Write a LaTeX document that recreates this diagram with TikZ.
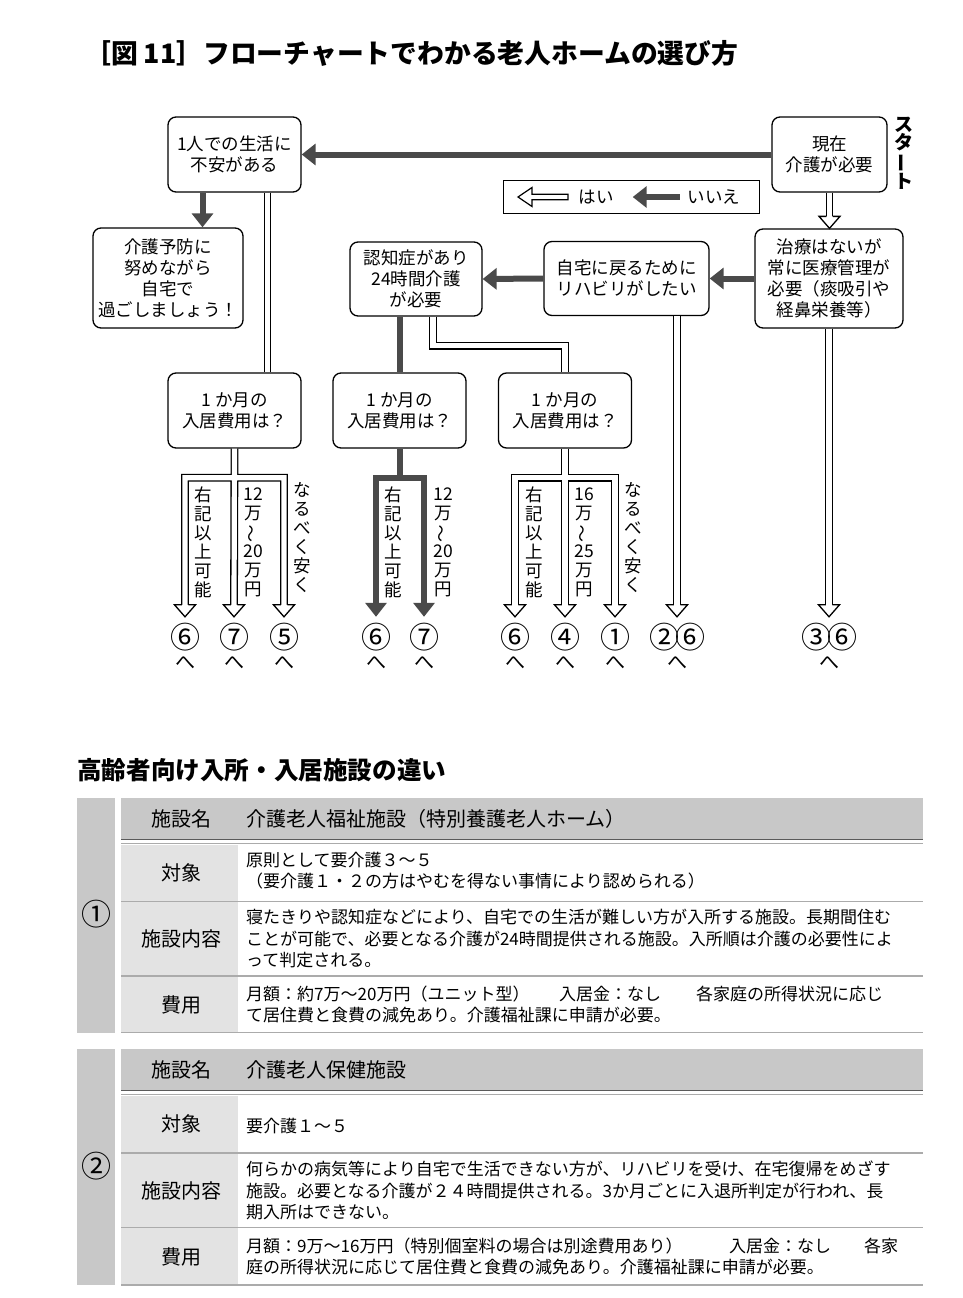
\documentclass[tikz,border=0pt]{standalone}
\usepackage{fontspec}
\usepackage{graphicx}
\setmainfont{Noto Sans CJK JP}
\usetikzlibrary{arrows.meta,positioning}

\definecolor{arrowgray}{HTML}{4A4A4A}
\definecolor{headgray}{HTML}{C8C8C8}
\definecolor{labelgray}{HTML}{E3E3E3}
\definecolor{rulegray}{HTML}{ABABAB}
\definecolor{darkrule}{HTML}{5A5A5A}

\newcommand{\fsz}[2]{\fontsize{#1}{#2}\selectfont}
\newcommand{\vtilde}{\rotatebox[origin=c]{90}{～}}
\newcommand{\vchoon}{\rotatebox[origin=c]{90}{ー}}

\begin{document}
\begin{tikzpicture}[
  x=1pt,
  y=-1pt,
  line join=miter,
  step box/.style={draw=black,line width=1.3pt,rounded corners=8pt,fill=white,
    align=center,inner sep=0pt,font=\fsz{17.5}{21}},
  black arrow/.style={draw=arrowgray,line width=6pt,
    -{Triangle[length=14pt,width=21pt]}},
  black line/.style={draw=arrowgray,line width=6pt},
  double line/.style={draw=black,line width=1.3pt,double=white,double distance=5.2pt},
  hollow tip/.pic={
    \fill[white] (-10,-12) -- (10,-12) -- (0,-0.8) -- cycle;
    \draw[line width=1.3pt] (-3.25,-12) -- (-10.5,-12) -- (0,0) -- (10.5,-12) -- (3.25,-12);
  },
  vertical label/.style={align=center,inner sep=0pt,font=\fsz{17.5}{19}},
  dest number/.style={inner sep=0pt,minimum height=34pt,font=\fsz{30}{30}},
  towards/.style={inner sep=0pt,font=\fsz{20}{20}},
  legend text/.style={inner sep=0pt,font=\fsz{17.5}{17.5}},
  cell label/.style={inner sep=0pt,font=\fsz{20}{20}},
  cell text/.style={anchor=west,align=left,inner sep=0pt,font=\fsz{17}{21.5}}
]
  \useasboundingbox (0,0) rectangle (962,1298);

  % title
  \node[anchor=west,inner sep=0pt,font=\bfseries\fsz{26.8}{26.8}] (title) at (84,53)
    {［図 11］フローチャートでわかる老人ホームの選び方};

  % flowchart boxes
  \node[step box,minimum width=133pt,minimum height=75pt] (alone) at (234.5,154.5)
    {1人での生活に\\不安がある};
  \node[step box,minimum width=115pt,minimum height=75pt] (start) at (829.5,154.5)
    {現在\\介護が必要};
  \node[vertical label,font=\bfseries\fsz{19}{18}] (startmark) at (904,153)
    {ス\\タ\\\vchoon\\ト};
  \node[step box,minimum width=150pt,minimum height=100pt] (prevent) at (168,278)
    {介護予防に\\努めながら\\自宅で\\過ごしましょう！};
  \node[step box,minimum width=132pt,minimum height=74pt] (dementia) at (416,279)
    {認知症があり\\24時間介護\\が必要};
  \node[step box,minimum width=165pt,minimum height=74pt] (rehab) at (626.5,278.5)
    {自宅に戻るために\\リハビリがしたい};
  \node[step box,minimum width=148pt,minimum height=99pt] (medical) at (829,278.5)
    {治療はないが\\常に医療管理が\\必要（痰吸引や\\経鼻栄養等）};
  \node[step box,minimum width=133pt,minimum height=75pt] (costa) at (234.5,410.5)
    {1 か月の\\入居費用は？};
  \node[step box,minimum width=133pt,minimum height=75pt] (costb) at (399.5,410.5)
    {1 か月の\\入居費用は？};
  \node[step box,minimum width=133pt,minimum height=75pt] (costc) at (565,410.5)
    {1 か月の\\入居費用は？};

  % legend
  \node[draw=black,line width=1pt,minimum width=256pt,minimum height=33pt,inner sep=0pt]
    (legend) at (631,196.5) {};
  \node[legend text] (yes) at (596,197) {はい};
  \node[legend text] (no) at (714,197) {いいえ};
  \draw[line width=1.2pt,fill=white] (518,197) -- (532,187.5) -- (532,194.3)
    -- (568,194.3) -- (568,199.7) -- (532,199.7) -- (532,206.5) -- cycle;
  \draw[black arrow] ([xshift=-8pt]no.west) -- ([xshift=19pt]yes.east);

  % destinations
  \foreach \destx/\destname/\desttext in {185/a1/⑥,234/a2/⑦,284/a3/⑤,376/b1/⑥,424/b2/⑦,
      515/c1/⑥,565/c2/④,615/c3/①,677/d/②\hspace{-4pt}⑥,829/e/③\hspace{-4pt}⑥}{
    \node[dest number] (num\destname) at (\destx,637) {\desttext};
    \node[towards] (to\destname) at (\destx,663) {へ};
  }

  % branch labels
  \node[vertical label] (amore) at (203,542) {右\\記\\以\\上\\可\\能};
  \node[vertical label] (amid) at (253,542) {12\\万\\\vtilde\\20\\万\\円};
  \node[vertical label] (acheap) at (302,538) {な\\る\\べ\\く\\安\\く};
  \node[vertical label] (bmore) at (393,542) {右\\記\\以\\上\\可\\能};
  \node[vertical label] (bmid) at (443,542) {12\\万\\\vtilde\\20\\万\\円};
  \node[vertical label] (cmore) at (534,542) {右\\記\\以\\上\\可\\能};
  \node[vertical label] (cmid) at (584,542) {16\\万\\\vtilde\\25\\万\\円};
  \node[vertical label] (ccheap) at (633,538) {な\\る\\べ\\く\\安\\く};

  % no (black) connectors
  \draw[black arrow] (start.west) -- (alone.east);
  \draw[black arrow] ([xshift=-32pt]alone.south) -- ([xshift=-32pt]alone.south |- prevent.north);
  \draw[black arrow] (medical.west) -- (rehab.east);
  \draw[black arrow] (rehab.west) -- (dementia.east);
  \draw[black line] ([xshift=-16pt]dementia.south) -- ([xshift=-16pt]dementia.south |- costb.north);
  \coordinate (barb) at ([yshift=-29pt]costb.south);
  \draw[black line] (costb.south) -- (barb);
  \draw[black arrow] (barb) -| ([yshift=3pt]numb1.north);
  \draw[black arrow] (barb) -| ([yshift=3pt]numb2.north);

  % yes (hollow) connectors
  \draw[double line] (start.south) -- ([yshift=11pt]start.south |- medical.north);
  \draw[double line] ([xshift=33pt]alone.south) -- ([xshift=33pt]alone.south |- costa.north);
  \coordinate (dmbend) at ([yshift=-29pt]dementia.south);
  \draw[double line] ([xshift=17pt]dementia.south) |- (dmbend -| costc.north) -- (costc.north);
  \draw[double line] ([xshift=50.5pt]rehab.south) -- ([yshift=14pt]numd.north);
  \draw[double line] (medical.south) -- ([yshift=14pt]nume.north);
  \coordinate (bara) at ([yshift=-29pt]costa.south);
  \draw[double line] (costa.south) -- ([yshift=14pt]numa2.north)
    ([yshift=14pt]numa1.north) |- (bara) -| ([yshift=14pt]numa3.north);
  \coordinate (barc) at ([yshift=-29pt]costc.south);
  \draw[double line] (costc.south) -- ([yshift=14pt]numc2.north)
    ([yshift=14pt]numc1.north) |- (barc) -| ([yshift=14pt]numc3.north);
  \pic at (start.south |- medical.north) {hollow tip};
  \foreach \tipname in {a1,a2,a3,c1,c2,c3,d,e}{
    \pic at ([yshift=3pt]num\tipname.north) {hollow tip};
  }

  % table heading
  \node[anchor=west,inner sep=0pt,font=\bfseries\fsz{24.6}{24.6}] (tablehead) at (77,770)
    {高齢者向け入所・入居施設の違い};

  % facility 1
  \begin{scope}[shift={(0,798)}]
    \fill[headgray] (77,0) rectangle (115,234.5);
    \fill[headgray] (121,0) rectangle (923,41);
    \fill[labelgray] (121,46.5) rectangle (238,234);
    \draw[darkrule,line width=1.5pt] (121,41.5) -- (923,41.5);
    \draw[rulegray,line width=1.2pt] (121,45.8) -- (923,45.8);
    \foreach \ruley in {103.5,178,234.5}{
      \draw[rulegray,line width=1.5pt] (121,\ruley) -- (923,\ruley);
    }
    \node[font=\fsz{30}{30},inner sep=0pt] (facnuma) at (96,116) {①};
    \node[cell label] at (181,20.5) {施設名};
    \node[cell label,anchor=west] at (246,20.5) {介護老人福祉施設（特別養護老人ホーム）};
    \node[cell label] at (181,75) {対象};
    \node[cell text] at (246,72.5) {原則として要介護３～５\\（要介護１・２の方はやむを得ない事情により認められる）};
    \node[cell label] at (181,141) {施設内容};
    \node[cell text] at (246,141)
      {寝たきりや認知症などにより、自宅での生活が難しい方が入所する施設。長期間住む\\
       ことが可能で、必要となる介護が24時間提供される施設。入所順は介護の必要性によ\\
       って判定される。};
    \node[cell label] at (181,207) {費用};
    \node[cell text] at (246,206.5)
      {\makebox[313pt][l]{月額：約7万～20万円（ユニット型）}\makebox[137pt][l]{入居金：なし}各家庭の所得状況に応じ\\
       て居住費と食費の減免あり。介護福祉課に申請が必要。};
  \end{scope}

  % facility 2
  \begin{scope}[shift={(0,1049)}]
    \fill[headgray] (77,0) rectangle (115,236);
    \fill[headgray] (121,0) rectangle (923,41);
    \fill[labelgray] (121,46.5) rectangle (238,235.5);
    \draw[darkrule,line width=1.5pt] (121,41.5) -- (923,41.5);
    \draw[rulegray,line width=1.2pt] (121,45.8) -- (923,45.8);
    \foreach \ruley in {104,178.5,236}{
      \draw[rulegray,line width=1.5pt] (121,\ruley) -- (923,\ruley);
    }
    \node[font=\fsz{30}{30},inner sep=0pt] (facnumb) at (96,117) {②};
    \node[cell label] at (181,20.5) {施設名};
    \node[cell label,anchor=west] at (246,20.5) {介護老人保健施設};
    \node[cell label] at (181,75) {対象};
    \node[cell text] at (246,77) {要介護１～５};
    \node[cell label] at (181,142) {施設内容};
    \node[cell text] at (246,141.5)
      {何らかの病気等により自宅で生活できない方が、リハビリを受け、在宅復帰をめざす\\
       施設。必要となる介護が２４時間提供される。3か月ごとに入退所判定が行われ、長\\
       期入所はできない。};
    \node[cell label] at (181,208) {費用};
    \node[cell text] at (246,207.5)
      {\makebox[483pt][l]{月額：9万～16万円（特別個室料の場合は別途費用あり）}\makebox[135pt][l]{入居金：なし}各家\\
       庭の所得状況に応じて居住費と食費の減免あり。介護福祉課に申請が必要。};
  \end{scope}
\end{tikzpicture}
\end{document}
